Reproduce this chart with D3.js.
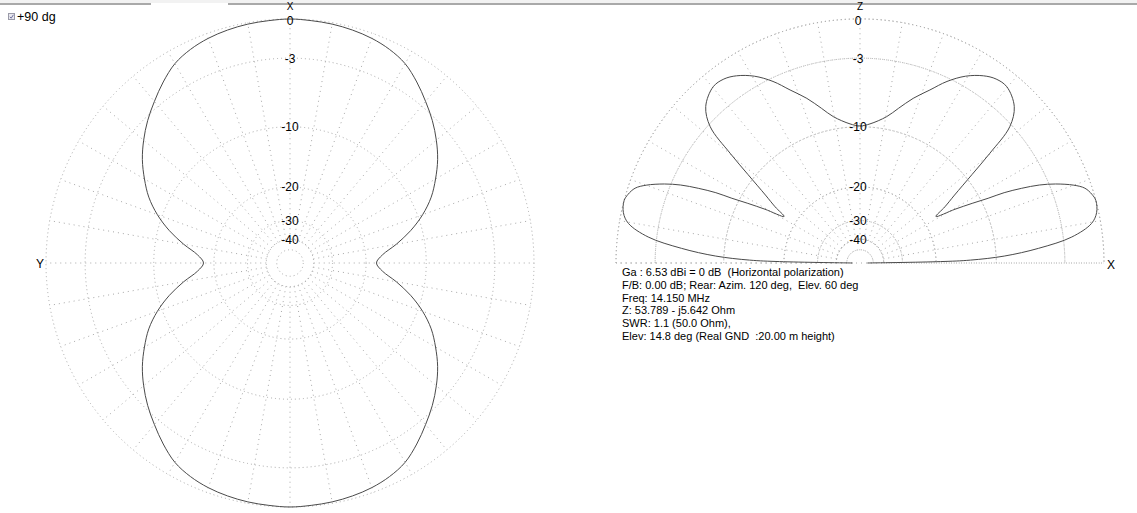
<!DOCTYPE html>
<html>
<head>
<meta charset="utf-8">
<script src="https://cdn.jsdelivr.net/npm/d3@7"></script>
<style>
  html, body { margin: 0; padding: 0; background: #fff; }
  svg { display: block; font-family: "Liberation Sans", Arial, sans-serif; }
  text { white-space: pre; }
</style>
</head>
<body>
<svg id="chart" width="1137" height="513"></svg>
<script>
// ---------------- DATA ----------------
// Ring levels (dB) on the ARRL log scale
const ringLevels = [0, -3, -10, -20, -30, -40, -50];
const ringLabels = ["0", "-3", "-10", "-20", "-30", "-40"];
const ringLabelLevels = [0, -3, -10, -20, -30, -40];

// Azimuth pattern (left plot), angle clockwise from X (top), gain in dB
const azAngles = [0,5,10,15,20,25,30,35,40,45,50,55,60,65,70,75,80,85,
  90,95,100,105,110,115,120,125,130,135,140,145,150,155,160,165,170,175,
  180,185,190,195,200,205,210,215,220,225,230,235,240,245,250,255,260,265,
  270,275,280,285,290,295,300,305,310,315,320,325,330,335,340,345,350,355];
const azGain = [0,-0.05,-0.1,-0.2,-0.35,-0.6,-1.0,-1.7,-2.5,-3.3,-4.2,-5.2,-6.4,-7.7,-9.4,-11.5,-14.0,-16.6,
  -17.8,-16.6,-14.0,-11.5,-9.4,-7.7,-6.4,-5.2,-4.2,-3.3,-2.5,-1.7,-1.0,-0.6,-0.35,-0.2,-0.1,-0.05,
  0,-0.05,-0.1,-0.2,-0.35,-0.6,-1.0,-1.7,-2.5,-3.3,-4.2,-5.2,-6.4,-7.7,-9.4,-11.5,-14.0,-16.6,
  -17.8,-16.6,-14.0,-11.5,-9.4,-7.7,-6.4,-5.2,-4.2,-3.3,-2.5,-1.7,-1.0,-0.6,-0.35,-0.2,-0.1,-0.05];

// Elevation pattern (right plot), elevation angle from +X (0) over Z (90) to -X (180), gain in dB
const elevAngles = [0,1,1.5,2.75,4.7,7,9.7,12,14.8,16.5,18.4,20,22,23.5,24.8,26,26.8,28,29.5,31.5,
  33.5,35.7,38.3,40.2,42.3,45.4,50.2,53.5,56.6,60.5,64.4,68,72.1,76,79.7,85.9,90,
  94.1,100.3,104,107.9,112,115.6,119.5,123.4,126.5,129.8,134.6,137.7,139.8,141.7,144.3,146.5,
  148.5,150.5,152,153.2,154,155.2,156.5,158,160,161.6,163.5,165.2,168,170.3,173,175.3,177.25,178.5,179,180];
const elevGain = [-60,-19,-13.6,-9,-5.3,-2.3,-0.65,-0.15,0,-0.15,-0.5,-1.2,-2.5,-3.8,-5.4,-7.2,-9.1,-11.2,-13.8,-17.3,
  -15,-12.7,-9.2,-6.2,-3.2,-1.8,-1.06,-1.1,-1.45,-2.2,-3.3,-4.6,-5.9,-7.3,-8.5,-9.6,-9.9,
  -9.6,-8.5,-7.3,-5.9,-4.6,-3.3,-2.2,-1.45,-1.1,-1.06,-1.8,-3.2,-6.2,-9.2,-12.7,-15,
  -17.3,-13.8,-11.2,-9.1,-7.2,-5.4,-3.8,-2.5,-1.2,-0.5,-0.15,0,-0.15,-0.65,-2.3,-5.3,-9,-13.6,-19,-60];

const infoLines = [
  "Ga : 6.53 dBi = 0 dB  (Horizontal polarization)",
  "F/B: 0.00 dB; Rear: Azim. 120 deg,  Elev. 60 deg",
  "Freq: 14.150 MHz",
  "Z: 53.789 - j5.642 Ohm",
  "SWR: 1.1 (50.0 Ohm),",
  "Elev: 14.8 deg (Real GND  :20.00 m height)"
];

// ---------------- LAYOUT ----------------
const svg = d3.select("#chart");
const R = 244;
const leftC = {x: 290, y: 263};
const rightC = {x: 860, y: 263};
const gridColor = "#a8a8a8";
const curveColor = "#4a4a4a";
const labelSize = 12;

// ARRL log scale: radius factor 0.89 per 2 dB
const rScale = d3.scaleLinear().domain([0, 1]).range([0, R]);
const rOf = db => rScale(Math.pow(0.89, -db / 2));
const spokeAngles = d3.range(0, 360, 10);

// top bar
svg.append("rect").attr("x", 0).attr("y", 0).attr("width", 1137).attr("height", 3).attr("fill", "#f2f2f2");
svg.append("line").attr("x1", 0).attr("x2", 151).attr("y1", 4).attr("y2", 4).attr("stroke", "#a9a9a9").attr("stroke-width", 2);
svg.append("line").attr("x1", 228).attr("x2", 1137).attr("y1", 4).attr("y2", 4).attr("stroke", "#a9a9a9").attr("stroke-width", 2);

// checkbox
svg.append("rect").attr("x", 8.5).attr("y", 13.5).attr("width", 6).attr("height", 6)
  .attr("fill", "#e8e8ee").attr("stroke", "#9a9aa8").attr("stroke-width", 1);
svg.append("path").attr("d", "M9.8,16.8 L11.2,18.2 L13.4,14.8").attr("fill", "none").attr("stroke", "#7070a0").attr("stroke-width", 1);
svg.append("text").attr("x", 17).attr("y", 21).attr("font-size", 12.5).attr("fill", "#000").text("+90 dg");

// ---------------- LEFT: AZIMUTH ----------------
const gl = svg.append("g").attr("transform", `translate(${leftC.x},${leftC.y})`);
gl.selectAll("circle.ring").data(ringLevels).join("circle")
  .attr("r", d => rOf(d)).attr("fill", "none").attr("stroke", gridColor)
  .attr("stroke-width", 1).attr("stroke-dasharray", "1 3");
gl.selectAll("line.spoke").data(spokeAngles).join("line")
  .attr("x1", d => rOf(-40) * Math.sin(d * Math.PI / 180))
  .attr("y1", d => -rOf(-40) * Math.cos(d * Math.PI / 180))
  .attr("x2", d => R * Math.sin(d * Math.PI / 180))
  .attr("y2", d => -R * Math.cos(d * Math.PI / 180))
  .attr("stroke", gridColor).attr("stroke-width", 1).attr("stroke-dasharray", "1 4");

const azLine = d3.lineRadial()
  .angle((d, i) => azAngles[i] * Math.PI / 180)
  .radius((d, i) => rOf(azGain[i]))
  .curve(d3.curveCatmullRomClosed.alpha(0.5));
gl.append("path").attr("d", azLine(azGain)).attr("fill", "none")
  .attr("stroke", curveColor).attr("stroke-width", 1);

gl.selectAll("text.rl").data(ringLabelLevels).join("text")
  .attr("x", 0).attr("y", d => -rOf(d) + (d === 0 ? 5.5 : 4.5))
  .attr("text-anchor", "middle").attr("font-size", labelSize).attr("fill", "#000")
  .text((d, i) => ringLabels[i]);
gl.append("text").attr("x", 0).attr("y", -R - 9).attr("text-anchor", "middle").attr("font-size", 10).text("X");
gl.append("text").attr("x", -R - 6).attr("y", 4.5).attr("text-anchor", "middle").attr("font-size", labelSize).text("Y");

// ---------------- RIGHT: ELEVATION ----------------
const gr = svg.append("g").attr("transform", `translate(${rightC.x},${rightC.y})`);
const arc = d3.arc().startAngle(-Math.PI / 2).endAngle(Math.PI / 2);
gr.selectAll("path.ring").data(ringLevels).join("path")
  .attr("d", d => arc({innerRadius: rOf(d), outerRadius: rOf(d)}))
  .attr("fill", "none").attr("stroke", gridColor).attr("stroke-width", 1).attr("stroke-dasharray", "1 3");
gr.selectAll("line.spoke").data(spokeAngles.filter(a => a <= 90 || a >= 270)).join("line")
  .attr("x1", d => rOf(-40) * Math.sin(d * Math.PI / 180))
  .attr("y1", d => -rOf(-40) * Math.cos(d * Math.PI / 180))
  .attr("x2", d => R * Math.sin(d * Math.PI / 180))
  .attr("y2", d => -R * Math.cos(d * Math.PI / 180))
  .attr("stroke", gridColor).attr("stroke-width", 1).attr("stroke-dasharray", "1 4");
gr.append("line").attr("x1", -R).attr("x2", R).attr("y1", 0).attr("y2", 0)
  .attr("stroke", gridColor).attr("stroke-width", 1).attr("stroke-dasharray", "1 4");

const elLine = d3.lineRadial()
  .angle((d, i) => (90 - elevAngles[i]) * Math.PI / 180)
  .radius((d, i) => rOf(elevGain[i]))
  .curve(d3.curveCatmullRom.alpha(0.5));
gr.append("path").attr("d", elLine(elevGain)).attr("fill", "none")
  .attr("stroke", curveColor).attr("stroke-width", 1);

gr.selectAll("text.rl").data(ringLabelLevels).join("text")
  .attr("x", -2).attr("y", d => -rOf(d) + (d === 0 ? 5.5 : 4.5))
  .attr("text-anchor", "middle").attr("font-size", labelSize).attr("fill", "#000")
  .text((d, i) => ringLabels[i]);
gr.append("text").attr("x", 0).attr("y", -R - 9).attr("text-anchor", "middle").attr("font-size", 10).text("Z");
gr.append("text").attr("x", R + 3).attr("y", 6).attr("text-anchor", "start").attr("font-size", labelSize).text("X");

// info text
svg.append("g").selectAll("text").data(infoLines).join("text")
  .attr("x", 622).attr("y", (d, i) => 276 + i * 12.8)
  .attr("font-size", 11).attr("fill", "#000")
  .text(d => d);
</script>
</body>
</html>
